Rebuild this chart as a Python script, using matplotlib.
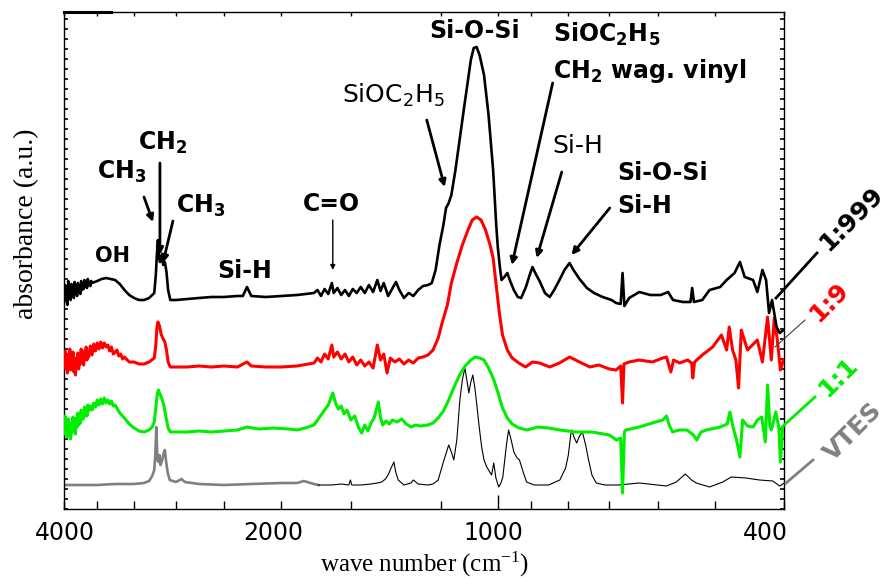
import matplotlib
matplotlib.use("Agg")
import matplotlib.pyplot as plt
import matplotlib.transforms as mtransforms
from matplotlib.ticker import FixedLocator, FixedFormatter, NullFormatter, MultipleLocator

plt.rcParams['font.family'] = ['DejaVu Sans']
plt.rcParams['mathtext.default'] = 'regular'

# ---------------------------------------------------------------- spectra
# stacked FTIR traces, absorbance in arbitrary units (offsets included)

wn_1999 = [4000, 3990, 3980, 3970, 3960, 3950, 3940, 3930, 3920, 3910, 3900, 3890, 3880, 3870,
           3860, 3850, 3840, 3830, 3820, 3810, 3800, 3790, 3780, 3770, 3760, 3750, 3740, 3730,
           3720, 3710, 3700, 3690, 3680, 3670, 3660, 3600, 3550, 3500, 3450, 3400, 3350, 3300,
           3250, 3200, 3150, 3100,
           3050, 3000, 2985, 2975, 2965, 2955, 2945, 2930, 2915, 2900, 2885, 2870, 2850, 2800,
           2700, 2600, 2500, 2400, 2300, 2260, 2230, 2200, 2100, 2000, 1900, 1850, 1800, 1780,
           1760, 1740, 1720, 1700, 1690, 1670, 1650, 1630, 1610, 1590, 1570, 1550, 1530, 1510,
           1490, 1470, 1455, 1440, 1420, 1400, 1385, 1370, 1350, 1330, 1310, 1290, 1270, 1250,
           1235, 1220, 1205, 1190, 1180, 1170, 1160, 1145, 1130, 1115, 1100, 1090, 1080, 1070,
           1060, 1045, 1030, 1015, 1005, 1000, 993, 988, 979, 970, 960, 950, 938, 928, 914, 903,
           895, 887, 875, 860, 847, 835, 821, 808, 795, 785, 770, 752, 735, 715, 695, 685, 675,
           671, 667, 657, 636, 614, 594, 580, 571, 553, 540, 537, 534, 520, 508, 491, 481, 469,
           461, 454, 442, 436, 429, 424, 420, 416, 410, 406, 401]
abs_1999 = [2.07, 2.24, 2.10, 2.18, 2.04, 2.28, 2.12, 2.20, 2.09, 2.25, 2.15, 2.22, 2.11, 2.27,
            2.16, 2.21, 2.13, 2.26, 2.18, 2.23, 2.15, 2.28, 2.19, 2.24, 2.20, 2.29, 2.22, 2.26,
            2.21, 2.30, 2.24, 2.27, 2.23, 2.28, 2.26, 2.28, 2.30, 2.31, 2.30, 2.29, 2.25, 2.19,
            2.14, 2.11, 2.09, 2.09,
            2.11, 2.16, 2.34, 2.54, 2.69, 2.51, 2.47, 2.54, 2.44, 2.47, 2.37, 2.19, 2.09, 2.09,
            2.10, 2.11, 2.12, 2.12, 2.13, 2.13, 2.22, 2.13, 2.12, 2.13, 2.14, 2.15, 2.16, 2.19,
            2.13, 2.20, 2.15, 2.26, 2.16, 2.21, 2.14, 2.19, 2.13, 2.20, 2.16, 2.22, 2.16, 2.24,
            2.17, 2.29, 2.18, 2.26, 2.13, 2.21, 2.27, 2.19, 2.11, 2.16, 2.13, 2.19, 2.23, 2.24,
            2.26, 2.39, 2.64, 2.84, 3.01, 3.06, 3.14, 3.39, 3.69, 3.99, 4.29, 4.49, 4.61, 4.62,
            4.54, 4.34, 3.94, 3.39, 2.84, 2.62, 2.41, 2.29, 2.32, 2.36, 2.27, 2.19, 2.12, 2.11,
            2.22, 2.34, 2.42, 2.36, 2.28, 2.16, 2.12, 2.19, 2.29, 2.39, 2.46, 2.39, 2.30, 2.21,
            2.16, 2.12, 2.09, 2.06, 2.05, 2.36, 2.03, 2.11, 2.17, 2.14, 2.14, 2.17, 2.09, 2.07,
            2.07, 2.21, 2.07, 2.09, 2.19, 2.22, 2.29, 2.36, 2.47, 2.32, 2.29, 2.17, 2.39, 2.29,
            1.96, 2.09, 1.82, 1.76, 1.79]

wn_19 = [4000, 3990, 3980, 3970, 3960, 3950, 3940, 3930, 3920, 3910, 3900, 3890, 3880, 3870,
         3860, 3850, 3840, 3830, 3820, 3810, 3800, 3790, 3780, 3770, 3760, 3750, 3740, 3730,
         3720, 3710, 3700, 3680, 3660, 3640, 3620, 3600, 3580, 3560, 3540, 3520, 3500, 3480,
         3460, 3440, 3420, 3400, 3380, 3360, 3340, 3320, 3300, 3250, 3200, 3150, 3100, 3050,
         3000, 2985, 2975, 2965, 2950, 2935, 2920, 2900, 2885, 2870, 2850, 2800, 2700, 2600,
         2500, 2400, 2300, 2230, 2200, 2100, 2000, 1900, 1800, 1780, 1760, 1740, 1720, 1700,
         1690, 1670, 1650, 1630, 1610, 1590, 1570, 1550, 1530, 1510, 1490, 1470, 1455, 1440,
         1425, 1410, 1390, 1370, 1350, 1330, 1310, 1290, 1270, 1250, 1230, 1210, 1195, 1175,
         1160, 1140, 1120, 1100, 1085, 1070, 1055, 1040, 1025, 1015, 1005, 995, 985, 970, 955,
         935, 915, 895, 875, 847, 821, 795, 770, 745, 724, 700, 685, 675, 671, 668, 657, 636,
         610, 590, 583, 575, 570, 559, 545, 538, 536, 533, 520, 503, 489, 481, 477, 472, 467,
         463, 459, 450, 436, 429, 422, 417, 413, 409, 405, 401]
abs_19 = [1.47, 1.58, 1.40, 1.52, 1.36, 1.55, 1.44, 1.60, 1.39, 1.50, 1.42, 1.57, 1.37, 1.48,
          1.34, 1.51, 1.43, 1.56, 1.40, 1.53, 1.45, 1.60, 1.47, 1.55, 1.44, 1.58, 1.50, 1.62,
          1.49, 1.56, 1.52, 1.63, 1.54, 1.65, 1.58, 1.66, 1.60, 1.67, 1.61, 1.66, 1.62, 1.64,
          1.58, 1.62, 1.55, 1.57, 1.59, 1.53, 1.55, 1.50, 1.52, 1.47, 1.47, 1.45, 1.45, 1.47,
          1.51, 1.64, 1.81, 1.87, 1.83, 1.75, 1.71, 1.67, 1.59, 1.47, 1.42, 1.42, 1.42, 1.43,
          1.42, 1.43, 1.42, 1.47, 1.43, 1.42, 1.42, 1.43, 1.46, 1.51, 1.47, 1.55, 1.50, 1.64,
          1.52, 1.57, 1.50, 1.55, 1.47, 1.52, 1.44, 1.49, 1.43, 1.47, 1.41, 1.64, 1.49, 1.55,
          1.36, 1.51, 1.47, 1.50, 1.45, 1.49, 1.46, 1.51, 1.52, 1.54, 1.59, 1.71, 1.86, 2.04,
          2.26, 2.46, 2.64, 2.79, 2.89, 2.92, 2.89, 2.79, 2.64, 2.51, 2.24, 1.96, 1.74, 1.59,
          1.51, 1.46, 1.42, 1.47, 1.46, 1.42, 1.46, 1.52, 1.47, 1.42, 1.44, 1.40, 1.39, 1.43,
          1.06, 1.45, 1.47, 1.49, 1.47, 1.51, 1.52, 1.37, 1.49, 1.46, 1.49, 1.46, 1.31, 1.47,
          1.54, 1.62, 1.74, 1.59, 1.82, 1.59, 1.49, 1.21, 1.79, 1.59, 1.69, 1.47, 1.92, 1.49,
          1.91, 1.69, 1.39, 1.49]

wn_11 = [4000, 3990, 3980, 3970, 3960, 3950, 3940, 3930, 3920, 3910, 3900, 3890, 3880, 3870,
         3860, 3850, 3840, 3830, 3820, 3810, 3800, 3790, 3780, 3770, 3760, 3750, 3740, 3730,
         3720, 3710, 3700, 3680, 3660, 3640, 3620, 3600, 3580, 3560, 3540, 3520, 3500, 3480,
         3460, 3440, 3420, 3400, 3350, 3300, 3250, 3200, 3150, 3100, 3050, 3020, 3000, 2985,
         2970, 2960, 2945, 2930, 2910, 2890, 2870, 2850, 2800, 2700, 2600, 2500, 2400, 2300,
         2230, 2150, 2050, 1950, 1900, 1850, 1800, 1780, 1760, 1740, 1720, 1705, 1695, 1680,
         1665, 1650, 1635, 1620, 1600, 1580, 1560, 1545, 1530, 1515, 1500, 1485, 1475, 1465,
         1455, 1445, 1430, 1415, 1400, 1380, 1360, 1340, 1320, 1300, 1280, 1250, 1230, 1210,
         1190, 1170, 1150, 1130, 1110, 1090, 1075, 1060, 1045, 1030, 1015, 1000, 985, 970, 955,
         935, 910, 880, 850, 820, 780, 740, 700, 684, 675, 671, 667, 664, 636, 610, 590, 583,
         578, 572, 560, 546, 535, 529, 522, 513, 491, 480, 476, 471, 466, 461, 457, 450, 442,
         436, 430, 425, 422, 419, 417, 411, 407, 405, 402, 400]
abs_11 = [0.79, 0.93, 0.74, 0.88, 0.72, 0.90, 0.78, 0.86, 0.70, 0.84, 0.77, 0.92, 0.80, 0.87,
          0.75, 0.91, 0.82, 0.96, 0.84, 0.93, 0.86, 0.99, 0.89, 0.97, 0.91, 1.02, 0.94, 1.00,
          0.93, 1.04, 0.98, 1.03, 0.99, 1.06, 1.02, 1.09, 1.04, 1.10, 1.05, 1.11, 1.06, 1.09,
          1.05, 1.08, 1.03, 1.04, 0.96, 0.91, 0.85, 0.81, 0.78, 0.77, 0.79, 0.82, 0.87, 1.01,
          1.16, 1.19, 1.15, 1.11, 1.04, 0.92, 0.81, 0.77, 0.77, 0.77, 0.78, 0.77, 0.78, 0.79,
          0.82, 0.80, 0.81, 0.80, 0.79, 0.81, 0.84, 0.89, 0.94, 0.99, 1.04, 1.11, 1.16, 1.06,
          1.00, 1.03, 0.95, 0.99, 0.89, 0.93, 0.81, 0.76, 0.84, 0.78, 0.86, 0.91, 0.99, 1.07,
          0.91, 0.84, 0.88, 0.85, 0.89, 0.87, 0.90, 0.85, 0.82, 0.84, 0.83, 0.84, 0.86, 0.91,
          0.98, 1.09, 1.22, 1.34, 1.43, 1.49, 1.52, 1.51, 1.49, 1.41, 1.31, 1.17, 1.01, 0.91,
          0.85, 0.81, 0.79, 0.82, 0.81, 0.79, 0.77, 0.77, 0.74, 0.69, 0.71, 0.16, 0.77, 0.79,
          0.82, 0.86, 0.89, 0.93, 0.84, 0.77, 0.79, 0.79, 0.74, 0.69, 0.77, 0.79, 0.82, 0.85,
          0.97, 0.81, 0.69, 0.52, 0.89, 0.83, 0.82, 0.89, 0.92, 0.67, 1.24, 0.84, 0.79, 0.97,
          0.81, 0.47, 0.82, 0.82]

# VTES reference: grey part (above 1775 cm-1) and thin black part (below)
wn_vtes_hi = [4000, 3800, 3600, 3400, 3200, 3100, 3050, 3020, 3000, 2990, 2980, 2970, 2960,
              2950, 2940, 2925, 2910, 2900, 2890, 2875, 2855, 2800, 2780, 2750, 2720, 2600,
              2400, 2200, 2000, 1900, 1860, 1800, 1775]
abs_vtes_hi = [0.24, 0.24, 0.24, 0.25, 0.25, 0.26, 0.28, 0.33, 0.39, 0.54, 0.82, 0.49, 0.47,
               0.54, 0.44, 0.49, 0.56, 0.59, 0.49, 0.37, 0.29, 0.27, 0.28, 0.30, 0.27, 0.25,
               0.24, 0.25, 0.26, 0.26, 0.28, 0.25, 0.24]

wn_vtes_lo = [1775, 1700, 1650, 1610, 1602, 1595, 1550, 1500, 1470, 1450, 1432, 1418, 1407,
              1400, 1394, 1386, 1375, 1350, 1320, 1310, 1300, 1290, 1250, 1230, 1210, 1190,
              1170, 1160, 1151, 1140, 1129, 1120, 1111, 1104, 1097, 1090, 1083, 1076, 1070,
              1062, 1053, 1045, 1036, 1020, 1013, 1006, 997, 990, 984, 978, 972, 966, 958, 950,
              940, 933, 922, 912, 890, 850, 820, 805, 798, 792, 789, 784, 777, 770, 763, 755,
              748, 740, 730, 710, 680, 636, 600, 583, 565, 549, 538, 530, 508, 487, 474, 452,
              433, 415, 406, 400]
abs_vtes_lo = [0.24, 0.24, 0.25, 0.24, 0.29, 0.24, 0.24, 0.25, 0.26, 0.27, 0.30, 0.35, 0.41,
               0.44, 0.47, 0.37, 0.29, 0.24, 0.26, 0.29, 0.27, 0.25, 0.24, 0.25, 0.29, 0.47,
               0.64, 0.57, 0.49, 0.69, 1.09, 1.29, 1.41, 1.29, 1.16, 1.27, 1.34, 1.21, 1.06,
               0.84, 0.62, 0.49, 0.42, 0.34, 0.46, 0.31, 0.22, 0.26, 0.32, 0.49, 0.66, 0.79,
               0.69, 0.57, 0.51, 0.49, 0.37, 0.27, 0.24, 0.24, 0.29, 0.41, 0.54, 0.74, 0.79,
               0.72, 0.66, 0.73, 0.77, 0.64, 0.49, 0.34, 0.26, 0.24, 0.24, 0.26, 0.24, 0.23,
               0.27, 0.35, 0.29, 0.26, 0.22, 0.27, 0.32, 0.31, 0.29, 0.28, 0.23, 0.26]

# x-axis ticks
major_ticks = [4000, 2000, 1000, 400]
major_labels = ['4000', '2000', '1000', '400']
minor_ticks = [3600, 3200, 2800, 2400, 1600, 1200, 900, 800, 700, 600, 500]

# band assignments: (text, x, y, weight, size)
band_labels = [
    ('OH', 3626, 2.47, 'bold', 15),
    ('CH$_3$', 3603, 3.30, 'bold', 17),
    ('CH$_2$', 3160, 3.59, 'bold', 17),
    ('CH$_3$', 2800, 2.96, 'bold', 17),
    ('Si-H', 2455, 2.31, 'bold', 17),
    ('C=O', 1866, 2.98, 'bold', 17),
    ('SiOC$_2$H$_5$', 1647, 4.06, 'normal', 18),
    ('Si-O-Si', 1247, 4.71, 'bold', 17),
    ('SiOC$_2$H$_5$', 839, 4.67, 'bold', 17),
    ('CH$_2$ wag. vinyl', 839, 4.31, 'bold', 17),
    ('Si-H', 839, 3.56, 'normal', 18),
    ('Si-O-Si', 682, 3.29, 'bold', 17),
    ('Si-H', 682, 2.96, 'bold', 17),
]
# arrows: (tail x, tail y, head x, head y, line width)
band_arrows = [
    (3100, 3.12, 3012, 2.87, 2.0),
    (2946, 3.46, 2946, 2.54, 2.0),
    (2826, 2.88, 2918, 2.46, 2.0),
    (1695, 2.89, 1695, 2.39, 1.0),
    (1255, 3.89, 1185, 3.22, 2.0),
    (839, 4.26, 956, 2.44, 2.0),
    (815, 3.37, 883, 2.51, 2.0),
    (699, 3.01, 790, 2.54, 2.0),
]

# ---------------------------------------------------------------- figure
fig = plt.figure(figsize=(8.9, 5.78), dpi=100)
ax = fig.add_axes([64.3 / 890, 69 / 578, 720 / 890, 497 / 578])
ax.set_xscale('log')

ax.plot(wn_vtes_hi, abs_vtes_hi, color='#808080', lw=1.9, zorder=2)
ax.plot(wn_vtes_lo, abs_vtes_lo, color='black', lw=0.8, zorder=2)
ax.plot(wn_11, abs_11, color='#00ee00', lw=2.2, zorder=3)
ax.plot(wn_19, abs_19, color='#ff0000', lw=2.2, zorder=4)
ax.plot(wn_1999, abs_1999, color='black', lw=1.9, zorder=5)

ax.set_xlim(4000, 400)
ax.set_ylim(0, 4.97)

ax.xaxis.set_major_locator(FixedLocator(major_ticks))
ax.xaxis.set_major_formatter(FixedFormatter(major_labels))
ax.xaxis.set_minor_locator(FixedLocator(minor_ticks))
ax.xaxis.set_minor_formatter(NullFormatter())
ax.tick_params(axis='x', which='both', direction='in', top=True, bottom=True,
               length=6, width=1, labelsize=17, pad=9)
ax.yaxis.set_major_locator(MultipleLocator(0.1))
ax.tick_params(axis='y', which='both', direction='in', left=True, right=True,
               length=3, width=1.2, labelleft=False)
for spine in ax.spines.values():
    spine.set_linewidth(1.0)

# short ticks on the top edge, longer one at 1000
for tk in ax.xaxis.get_major_ticks() + ax.xaxis.get_minor_ticks():
    tk.tick2line.set_markersize(3)
ax.xaxis.get_major_ticks()[2].tick1line.set_markersize(10)
for tk, dx in zip(ax.xaxis.get_major_ticks(), [1, -8, -4, -19]):
    tk.label1.set_transform(tk.label1.get_transform() +
                            mtransforms.ScaledTranslation(dx / 100, 0, fig.dpi_scale_trans))

# thicker stub at the left end of the top frame
ax.plot([0.0, 0.065], [1.0, 1.0], color='black', lw=2.2, transform=ax.transAxes,
        clip_on=False, zorder=6)

ax.set_xlabel('wave number (cm$^{-1}$)', family='Liberation Serif', fontsize=18)
ax.xaxis.set_label_coords(0.5, -0.111)
ax.xaxis.label.set_verticalalignment('center')
ax.set_ylabel('absorbance (a.u.)', family='Liberation Serif', fontsize=20)
ax.yaxis.set_label_coords(-0.052, 0.573)
ax.yaxis.label.set_verticalalignment('center')

for text, x, y, weight, size in band_labels:
    ax.text(x, y, text, fontsize=size, fontweight=weight, ha='left', va='baseline', zorder=6)
for x0, y0, x1, y1, lw in band_arrows:
    ax.annotate('', xy=(x1, y1), xytext=(x0, y0),
                arrowprops=dict(arrowstyle='-|>', color='black', lw=lw,
                                mutation_scale=10 if lw > 1.5 else 7,
                                shrinkA=0, shrinkB=0), zorder=6)

# sample labels on the right with leader lines
series_tags = [
    ('1:999', 'black', (0.9885, 1.0454), (0.4245, 0.5151), 2.0, (1.0925, 0.5835)),
    ('1:9', '#ff0000', (0.9871, 1.0288), (0.3260, 0.3803), 0.8, (1.0621, 0.4165)),
    ('1:1', '#00ee00', (0.9968, 1.0426), (0.1650, 0.2254), 2.0, (1.0746, 0.2656)),
    ('VTES', '#808080', (1.0024, 1.0399), (0.0523, 0.0986), 2.0, (1.0960, 0.1549)),
]
for text, color, lx, ly, lw, (tx, ty) in series_tags:
    lcolor = '#404040' if text == '1:9' else color
    ax.plot(lx, ly, color=lcolor, lw=lw, transform=ax.transAxes, clip_on=False, zorder=6)
    ax.text(tx, ty, text, color=color, fontsize=18, fontweight='bold',
            rotation=45, rotation_mode='anchor', ha='center', va='center',
            transform=ax.transAxes, clip_on=False)

fig.savefig('out.png', dpi=100)
